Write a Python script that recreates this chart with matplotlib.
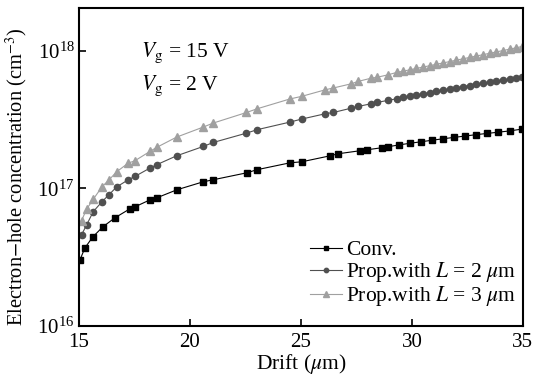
import numpy as np
import matplotlib
matplotlib.use('Agg')
import matplotlib.pyplot as plt

plt.rcParams['font.family'] = ['Liberation Serif', 'DejaVu Serif']
plt.rcParams['mathtext.fontset'] = 'stix'

# drift length (um) and concentration (x1e17 cm^-3)
drift_conv = [15.05, 15.27, 15.63, 16.08, 16.62, 17.30, 17.52, 18.20, 18.51, 19.41,
              20.59, 21.04, 22.57, 23.02, 24.50, 25.05, 26.31, 26.67, 27.66, 27.97,
              28.65, 28.92, 29.4, 29.9, 30.4, 30.9, 31.4, 31.9, 32.4, 32.9,
              33.4, 33.9, 34.4, 34.95]
conv = [0.302, 0.369, 0.444, 0.525, 0.610, 0.710, 0.733, 0.824, 0.853, 0.975,
        1.114, 1.153, 1.297, 1.365, 1.531, 1.560, 1.722, 1.782, 1.875, 1.905,
        1.972, 2.004, 2.065, 2.123, 2.178, 2.234, 2.291, 2.344, 2.399, 2.455,
        2.506, 2.559, 2.612, 2.692]

drift_prop = [15.12, 15.35, 15.65, 16.05, 16.35, 16.7, 17.22, 17.52, 18.2, 18.5,
              19.4, 20.6, 21.05, 22.55, 23.03, 24.5, 25.03, 26.1, 26.46, 27.28,
              27.58, 28.18, 28.41, 28.93, 29.31, 29.6, 29.9, 30.2, 30.5, 30.8,
              31.1, 31.4, 31.7, 32.0, 32.3, 32.6, 32.9, 33.2, 33.5, 33.8,
              34.1, 34.4, 34.7, 34.95]
prop_l2 = [0.459, 0.543, 0.678, 0.802, 0.897, 1.023, 1.153, 1.219, 1.403, 1.483,
           1.722, 2.014, 2.153, 2.518, 2.667, 3.027, 3.184, 3.483, 3.556, 3.828,
           3.936, 4.121, 4.207, 4.355, 4.477, 4.571, 4.667, 4.764, 4.864, 4.966,
           5.070, 5.176, 5.284, 5.383, 5.483, 5.585, 5.689, 5.794, 5.902, 6.012,
           6.124, 6.237, 6.353, 6.471]
prop_l3 = [0.583, 0.706, 0.834, 1.030, 1.148, 1.318, 1.524, 1.585, 1.854, 1.982,
           2.355, 2.786, 2.979, 3.556, 3.784, 4.457, 4.656, 5.200, 5.358, 5.754,
           5.984, 6.324, 6.397, 6.683, 6.950, 7.096, 7.261, 7.430, 7.603, 7.780,
           7.962, 8.147, 8.337, 8.531, 8.730, 8.933, 9.141, 9.354, 9.572, 9.795,
           10.02, 10.26, 10.50, 10.72]

fig = plt.figure(figsize=(5.33, 3.83), dpi=100)
ax = fig.add_axes([0.148, 0.149, 0.833, 0.830])

ax.plot(drift_conv, np.array(conv) * 1e17, color='black', marker='s', markersize=4.8,
        linewidth=0.8, label='Conv.')
ax.plot(drift_prop, np.array(prop_l2) * 1e17, color='#505050', marker='o', markersize=4.5,
        linewidth=0.8, label=r'Prop.with $L$ = 2 $\mu$m')
ax.plot(drift_prop, np.array(prop_l3) * 1e17, color='#a0a0a0', marker='^', markersize=6,
        linewidth=0.8, label=r'Prop.with $L$ = 3 $\mu$m')

ax.set_yscale('log')
ax.set_xlim(15, 35)
ax.set_ylim(1e16, 10 ** 18.31)
ax.set_xticks([15, 20, 25, 30, 35])
ax.set_yticks([1e16, 1e17, 1e18])
ax.minorticks_off()
ax.tick_params(direction='in', length=5, width=1.2, labelsize=15, top=False, right=False)
ax.tick_params(axis='x', pad=5)
ax.tick_params(axis='y', pad=3)
for s in ax.spines.values():
    s.set_linewidth(1.5)

ax.set_xlabel(r'Drift ($\mu$m)', fontsize=15.5, labelpad=0)
ax.set_ylabel(r'Electron$-$hole concentration (cm$^{-3}$)', fontsize=14.8)
ax.yaxis.set_label_coords(-0.112, 0.47)

ax.text(0.14, 0.847, r'$V_{\rm g}$ = 15 V', transform=ax.transAxes, fontsize=15.5)
ax.text(0.14, 0.742, r'$V_{\rm g}$ = 2 V', transform=ax.transAxes, fontsize=15.5)

ax.legend(loc='lower right', bbox_to_anchor=(1.0, 0.035), frameon=False, fontsize=15.5,
          handlelength=1.5, handletextpad=0.2, labelspacing=0.0, borderaxespad=0.0,
          markerscale=0.7, borderpad=0.3)

fig.savefig('out.png', dpi=100)
